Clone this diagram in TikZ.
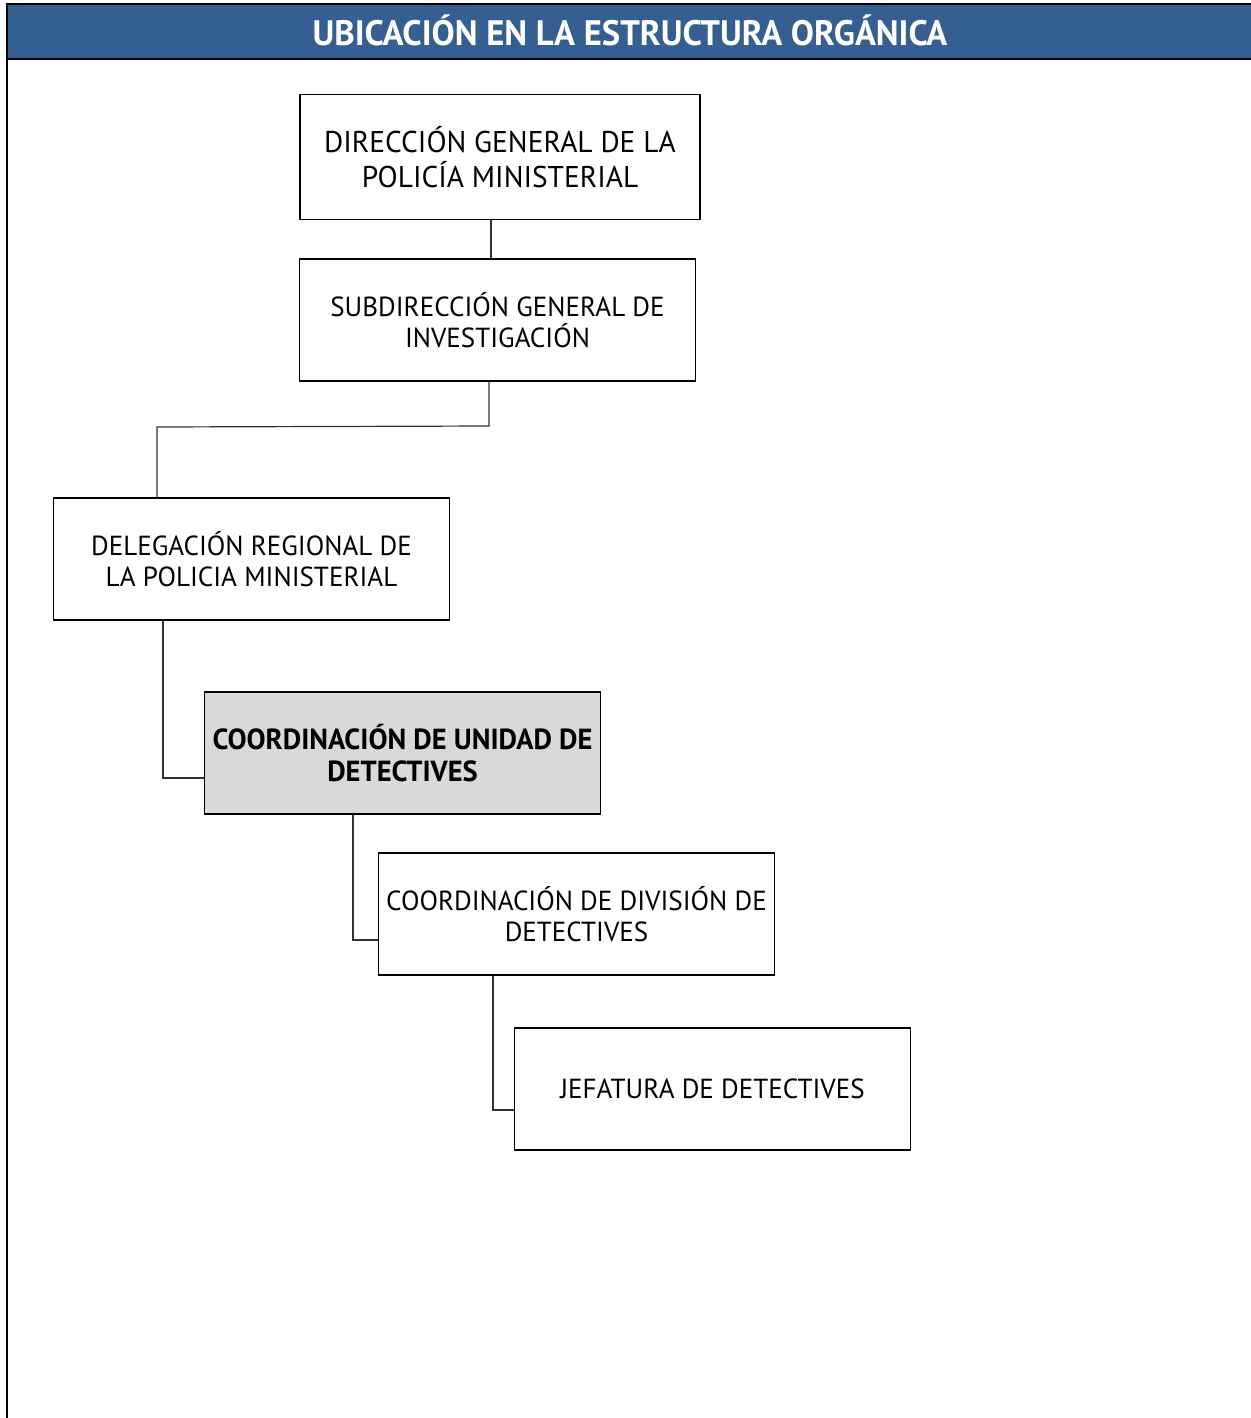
\documentclass[tikz,border=0pt]{standalone}
\usepackage{fontspec}
\setmainfont{PT Sans}[FakeStretch=0.98]
\definecolor{headblue}{HTML}{365F91}
\definecolor{boxgray}{HTML}{D9D9D9}
\begin{document}
\begin{tikzpicture}[x=0.75pt,y=-0.75pt,
  unit/.style={draw=black,line width=0.8pt,minimum width=297pt,minimum height=91.5pt,
    align=center,inner sep=0pt,font=\fontsize{20.7}{23.5}\selectfont},
  topunit/.style={unit,minimum width=300pt,minimum height=94pt,font=\fontsize{22.5}{26}\selectfont},
  mainunit/.style={unit,fill=boxgray,font=\fontsize{21.8}{24.5}\selectfont\bfseries},
  link/.style={draw=black!80,line width=0.9pt}]
\useasboundingbox (0,0) rectangle (1251,1418);
% header band
\fill[headblue] (6,5) rectangle (1251,59);
\draw[line width=1.6pt] (6,4) -- (1251,4);
\draw[line width=1.2pt] (6,59) -- (1251,59);
\draw[line width=2pt] (7,4) -- (7,1418);
\node[text=white,font=\fontsize{26.5}{30}\selectfont\bfseries] (title) at (630,30) {UBICACIÓN EN LA ESTRUCTURA ORGÁNICA};
% units
\node[topunit] (dg) at (500,157) {DIRECCIÓN GENERAL DE LA\\POLICÍA MINISTERIAL};
\node[unit] (sg) at (497.5,320) {SUBDIRECCIÓN GENERAL DE\\INVESTIGACIÓN};
\node[unit] (dr) at (251.5,559) {DELEGACIÓN REGIONAL DE\\LA POLICIA MINISTERIAL};
\node[mainunit] (cu) at (402.5,753) {COORDINACIÓN DE UNIDAD DE\\DETECTIVES};
\node[unit] (cd) at (576.5,914) {COORDINACIÓN DE DIVISIÓN DE\\DETECTIVES};
\node[unit] (jd) at (712.5,1089) {JEFATURA DE DETECTIVES};
% connectors
\draw[link] (dg.south -| 491,0) -- (sg.north -| 491,0);
\draw[link] (sg.south -| 489,0) -- (489,426) -- (157,427) -- (dr.north -| 157,0);
\draw[link] (dr.south -| 163,0) -- (163,778) -- (cu.west |- 0,778);
\draw[link] (cu.south -| 353,0) -- (353,940) -- (cd.west |- 0,940);
\draw[link] (cd.south -| 493,0) -- (493,1110) -- (jd.west |- 0,1110);
\end{tikzpicture}
\end{document}
